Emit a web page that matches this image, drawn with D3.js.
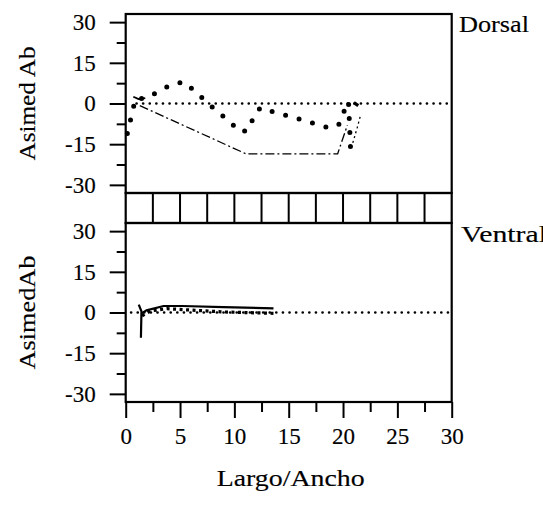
<!DOCTYPE html>
<html>
<head>
<meta charset="utf-8">
<script src="https://cdn.jsdelivr.net/npm/d3@7/dist/d3.min.js"></script>
<style>
  html, body { margin: 0; padding: 0; background: #fff; }
  svg { display: block; }
  text { font-family: "Liberation Serif", "DejaVu Serif", serif; fill: #000; stroke: #000; stroke-width: 0.15px; }
</style>
</head>
<body>
<svg id="chart" width="543" height="505"></svg>
<script>
// ---------- data ----------
const xTicksMajor = [0, 5, 10, 15, 20, 25, 30];
const xTicksMinor = [2.5, 7.5, 12.5, 17.5, 22.5, 27.5];
const yTicksMajor = [-30, -15, 0, 15, 30];
const yTicksMinor = [-22.5, -7.5, 7.5, 22.5];
const stripCells = [0, 2.5, 5, 7.5, 10, 12.5, 15, 17.5, 20, 22.5, 25, 27.5, 30];
const panelNames = ["Dorsal", "Ventral"];
const yTitles = ["Asimed Ab", "AsimedAb"];
const xTitle = "Largo/Ancho";

// reference line at 0
const refLine = [[1.0, 0], [30, 0]];
const refLineV = [[0.5, 0], [30, 0]];

// Dorsal panel series
const dorsalDotted = [[0.15, -11.1], [0.9, 1.8], [1.7, 1.8], [2.9, 4.1], [4.2, 7.0], [5.4, 8.0],
  [6.7, 3.3], [8.0, -1.4], [9.3, -5.8], [10.6, -10.5], [11.3, -9.8], [11.8, -4.6], [12.4, -1.5],
  [13.7, -3.2], [15.0, -4.6], [16.2, -6.0], [17.4, -7.5], [18.7, -9.0], [19.6, -7.8],
  [20.1, -2.8], [20.5, 0.8], [20.6, -8.0], [20.7, -17.5]];
const dorsalDotted2 = [[21.0, 0.3], [21.4, -0.8]];
const dorsalDashDot = [[1.3, -0.8], [11.1, -18.6], [19.5, -18.6], [20.4, -8.0]];
const dorsalDashDot2 = [[20.9, -14.5], [21.3, -9], [21.6, -4.5]];
const dorsalSolid = [[0.7, 2.5], [1.2, 1.6], [1.8, 2.0]];

// Ventral panel series
const ventralSolidA = [[1.2, 2.9], [1.45, 0.4], [1.4, -9.3]];
const ventralSolidB = [[1.45, -0.3], [1.9, 0.8], [3.5, 2.4], [5.2, 2.4], [9.0, 2.0], [13.6, 1.5]];
const ventralDashed = [[1.5, -1.2], [2.3, 0.6], [3.8, 1.4], [6.0, 0.9], [9.0, 0.2], [13.6, -0.3]];

// ---------- layout ----------
const svg = d3.select("#chart");
const L = 125.7, R = 451.7;
const topP = { y0: 14, y1: 193 };
const strip = { y0: 193, y1: 223 };
const botP = { y0: 223, y1: 402 };

const x = d3.scaleLinear().domain([0, 30]).range([L, R]);
const yTop = d3.scaleLinear().domain([-33, 33]).range([topP.y1, topP.y0]);
const yBot = d3.scaleLinear().domain([-33, 33]).range([botP.y1, botP.y0]);

const FS = 23;

function drawYAxis(y, name, title, p) {
  const gMaj = svg.append("g").attr("transform", `translate(${L},0)`)
    .call(d3.axisLeft(y).tickValues(yTicksMajor).tickSize(16).tickPadding(14).tickFormat(d3.format("d")));
  gMaj.select(".domain").remove();
  gMaj.selectAll(".tick line").attr("stroke", "#000").attr("stroke-width", 2);
  gMaj.selectAll(".tick text").attr("font-size", FS).attr("font-family", "Liberation Serif").attr("fill", "#000")
    .text(d => d < 0 ? "-" + Math.abs(d) : d);
  const gMin = svg.append("g").attr("transform", `translate(${L},0)`)
    .call(d3.axisLeft(y).tickValues(yTicksMinor).tickSize(9).tickFormat(""));
  gMin.select(".domain").remove();
  gMin.selectAll(".tick line").attr("stroke", "#000").attr("stroke-width", 2);

  svg.append("text")
    .attr("transform", `translate(35,${(p.y0 + p.y1) / 2}) rotate(-90)`)
    .attr("text-anchor", "middle")
    .attr("font-size", FS + 1)
    .attr("textLength", 114).attr("lengthAdjust", "spacingAndGlyphs")
    .text(title);
}

function frame(p) {
  svg.append("rect").attr("x", L).attr("y", p.y0).attr("width", R - L).attr("height", p.y1 - p.y0)
    .attr("fill", "none").attr("stroke", "#000").attr("stroke-width", 2.2);
}

const line = (y) => d3.line().x(d => x(d[0])).y(d => y(d[1]));

function path(data, y, opts) {
  svg.append("path").datum(data).attr("d", line(y))
    .attr("fill", "none").attr("stroke", "#000")
    .attr("stroke-width", opts.w)
    .attr("stroke-dasharray", opts.dash || null)
    .attr("stroke-linecap", opts.cap || "butt")
    .attr("stroke-linejoin", "round");
}

// ---------- top panel ----------
path(refLine, yTop, { w: 2.7, dash: "0 6.6", cap: "round" });
path(dorsalDashDot, yTop, { w: 1.3, dash: "9 3 2 3" });
path(dorsalDashDot2, yTop, { w: 1.3, dash: "2 3" });
path(dorsalSolid, yTop, { w: 1.8 });
path(dorsalDotted, yTop, { w: 5, dash: "0 14", cap: "round" });
path(dorsalDotted2, yTop, { w: 3.2 });
frame(topP);
drawYAxis(yTop, panelNames[0], yTitles[0], topP);

// ---------- strip ----------
svg.append("rect").attr("x", L).attr("y", strip.y0).attr("width", R - L).attr("height", strip.y1 - strip.y0)
  .attr("fill", "none").attr("stroke", "#000").attr("stroke-width", 2.2);
svg.append("g").selectAll("line").data(stripCells.slice(1, -1)).join("line")
  .attr("x1", d => x(d)).attr("x2", d => x(d))
  .attr("y1", strip.y0).attr("y2", strip.y1)
  .attr("stroke", "#000").attr("stroke-width", 2);

// ---------- bottom panel ----------
path(refLineV, yBot, { w: 2.7, dash: "0 6.6", cap: "round" });
path(ventralDashed, yBot, { w: 3.2, dash: "3 3.5" });
path(ventralSolidA, yBot, { w: 2.2 });
path(ventralSolidB, yBot, { w: 2.2 });
frame(botP);
drawYAxis(yBot, panelNames[1], yTitles[1], botP);

// ---------- x axis ----------
const gx = svg.append("g").attr("transform", `translate(0,${botP.y1})`)
  .call(d3.axisBottom(x).tickValues(xTicksMajor).tickSize(16).tickPadding(10));
gx.select(".domain").remove();
gx.selectAll(".tick line").attr("stroke", "#000").attr("stroke-width", 2);
gx.selectAll(".tick text").attr("font-size", FS).attr("font-family", "Liberation Serif").attr("fill", "#000");
const gx2 = svg.append("g").attr("transform", `translate(0,${botP.y1})`)
  .call(d3.axisBottom(x).tickValues(xTicksMinor).tickSize(10).tickFormat(""));
gx2.select(".domain").remove();
gx2.selectAll(".tick line").attr("stroke", "#000").attr("stroke-width", 2);

svg.append("text").attr("x", (x(0) + x(30)) / 2 + 2).attr("y", 486)
  .attr("text-anchor", "middle").attr("font-size", FS)
  .attr("textLength", 148).attr("lengthAdjust", "spacingAndGlyphs")
  .text(xTitle);

// ---------- panel names ----------
svg.append("text").attr("x", 459).attr("y", 32).attr("font-size", FS)
  .attr("textLength", 70).attr("lengthAdjust", "spacingAndGlyphs").text(panelNames[0]);
svg.append("text").attr("x", 461).attr("y", 242).attr("font-size", FS)
  .attr("textLength", 86).attr("lengthAdjust", "spacingAndGlyphs").text(panelNames[1]);
</script>
</body>
</html>
